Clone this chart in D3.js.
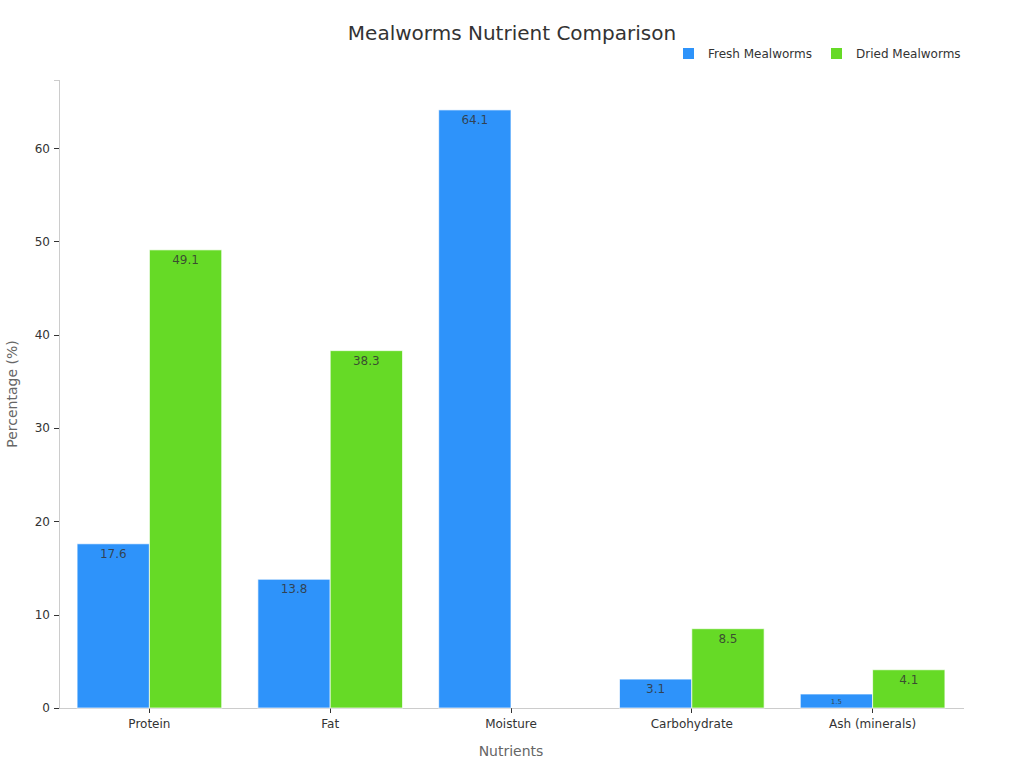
<!DOCTYPE html>
<meta charset="utf-8">
<style>
body { margin: 0; background: #fff; font-family: "DejaVu Sans", sans-serif; }
.axis path, .axis line { shape-rendering: crispEdges; }
</style>
<body>
<script src="https://cdn.jsdelivr.net/npm/d3@7"></script>
<script>

var nutrients = ["Protein", "Fat", "Moisture", "Carbohydrate", "Ash (minerals)"];
var seriesNames = ["Fresh Mealworms", "Dried Mealworms"];
var fresh = [17.6, 13.8, 64.1, 3.1, 1.5];
var dried = [49.1, 38.3, 0, 8.5, 4.1];
var yTicks = [0, 10, 20, 30, 40, 50, 60];
var colors = ["#2E93FA", "#66DA26"];

var width = 1024, height = 768;
var margin = {top: 80, right: 61, bottom: 60, left: 59};
var w = width - margin.left - margin.right,
    h = height - margin.top - margin.bottom;

var svg = d3.select("body").append("svg")
    .attr("width", width)
    .attr("height", height);

var g = svg.append("g")
    .attr("transform", "translate(" + margin.left + "," + margin.top + ")");

var x0 = d3.scaleBand().domain(nutrients).range([0, w]).paddingInner(0.2).paddingOuter(0.1);
var x1 = d3.scaleBand().domain(seriesNames).range([0, x0.bandwidth()]);
var y = d3.scaleLinear().domain([0, 64.1 * 1.05]).range([h, 0]);

// axes
var yAxis = g.append("g").attr("class", "axis")
    .call(d3.axisLeft(y).tickValues(yTicks).tickSize(5).tickPadding(4));
yAxis.select(".domain").attr("stroke", "#ccc");
yAxis.selectAll(".tick line").attr("stroke", "#333");
yAxis.selectAll(".tick text").attr("fill", "#333").style("font-size", "12px")
    .style("font-family", "DejaVu Sans, sans-serif");

var xAxis = g.append("g").attr("class", "axis")
    .attr("transform", "translate(0," + h + ")")
    .call(d3.axisBottom(x0).tickSize(5).tickPadding(6).tickSizeOuter(0));
xAxis.select(".domain").attr("stroke", "#ccc");
xAxis.selectAll(".tick line").attr("stroke", "#333");
xAxis.selectAll(".tick text").attr("fill", "#333").style("font-size", "12px")
    .style("font-family", "DejaVu Sans, sans-serif");

var rows = nutrients.map(function(n, i) {
  return {name: n, values: [fresh[i], dried[i]]};
});

var groups = g.selectAll(".grp").data(rows).enter().append("g")
    .attr("class", "grp")
    .attr("transform", function(d) { return "translate(" + x0(d.name) + ",0)"; });

var bars = groups.selectAll(".bar")
    .data(function(d) {
      return d.values.map(function(v, j) { return {series: seriesNames[j], value: v, j: j}; })
        .filter(function(e) { return e.value > 0; });
    })
    .enter();

bars.append("rect")
    .attr("x", function(d) { return x1(d.series); })
    .attr("y", function(d) { return y(d.value); })
    .attr("width", x1.bandwidth())
    .attr("height", function(d) { return h - y(d.value); })
    .attr("fill", function(d) { return colors[d.j]; })
    .attr("stroke", "rgba(255,255,255,0.7)")
    .attr("stroke-width", 1);

bars.append("text")
    .attr("x", function(d) { return x1(d.series) + x1.bandwidth() / 2; })
    .attr("y", function(d) {
      var bh = h - y(d.value);
      return bh < 20 ? y(d.value) + bh / 2 + 2.5 : y(d.value) + 14;
    })
    .attr("text-anchor", "middle")
    .attr("fill", "#333")
    .attr("fill-opacity", 0.85)
    .style("font-size", function(d) { return (h - y(d.value)) < 20 ? "7px" : "12px"; })
    .text(function(d) { return d.value; });

// title
svg.append("text")
    .attr("x", width / 2).attr("y", 40)
    .attr("text-anchor", "middle")
    .attr("fill", "#333")
    .style("font-size", "20px")
    .text("Mealworms Nutrient Comparison");

// axis titles
svg.append("text")
    .attr("x", margin.left + w / 2).attr("y", 756)
    .attr("text-anchor", "middle")
    .attr("fill", "#666")
    .style("font-size", "14px")
    .text("Nutrients");

svg.append("text")
    .attr("transform", "translate(17," + (margin.top + h / 2) + ") rotate(-90)")
    .attr("text-anchor", "middle")
    .attr("fill", "#666")
    .style("font-size", "14px")
    .text("Percentage (%)");

// legend
var legendX = [683, 831];
var legend = svg.selectAll(".legend").data(seriesNames).enter().append("g")
    .attr("class", "legend")
    .attr("transform", function(d, i) { return "translate(" + legendX[i] + ",48)"; });
legend.append("rect")
    .attr("width", 11).attr("height", 11)
    .attr("fill", function(d, i) { return colors[i]; });
legend.append("text")
    .attr("x", 25).attr("y", 10)
    .attr("fill", "#333")
    .style("font-size", "12px")
    .text(function(d) { return d; });

</script>
</body>
